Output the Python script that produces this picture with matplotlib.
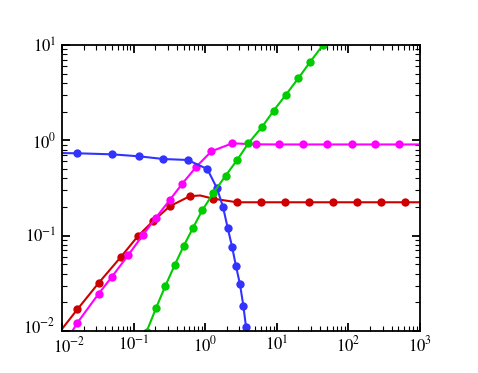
import numpy as np
import matplotlib
matplotlib.use("Agg")
import matplotlib.pyplot as plt
from matplotlib.ticker import LogLocator, NullFormatter, FixedLocator
from matplotlib.transforms import ScaledTranslation

plt.rcParams['font.family'] = 'Liberation Serif'
plt.rcParams['mathtext.fontset'] = 'stix'

# values (log-log); first/last entries of each
# line array are where the curve meets the frame, markers on the rest
blue_x = [0.01, 0.0164, 0.05, 0.118, 0.26, 0.569, 1.07, 1.46, 1.77, 2.06, 2.37, 2.69, 3.06, 3.41, 3.71, 3.85]
blue_y = [0.735, 0.731, 0.713, 0.68, 0.637, 0.622, 0.50, 0.314, 0.201, 0.121, 0.0767, 0.048, 0.0309, 0.0184, 0.0111, 0.0095]

red_x = [0.01, 0.0164, 0.0325, 0.0667, 0.116, 0.186, 0.319, 0.607, 0.85, 1.30, 2.78, 6.0, 13.0, 28.0, 60.0, 130.0, 282.0, 611.0, 1000.0]
red_y = [0.0105, 0.01687, 0.0319, 0.060, 0.0998, 0.1414, 0.203, 0.259, 0.264, 0.244, 0.224, 0.224, 0.224, 0.224, 0.224, 0.224, 0.224, 0.224, 0.224]

mag_x = [0.0134, 0.0164, 0.0325, 0.0499, 0.0837, 0.134, 0.203, 0.322, 0.479, 0.752, 1.22, 2.39, 5.07, 10.8, 23.4, 50.7, 111.0, 238.0, 514.0, 1000.0]
mag_y = [0.0095, 0.0122, 0.0246, 0.0371, 0.0622, 0.101, 0.153, 0.238, 0.351, 0.529, 0.767, 0.93, 0.908, 0.905, 0.905, 0.905, 0.905, 0.905, 0.905, 0.905]

green_x = [0.152, 0.205, 0.277, 0.375, 0.501, 0.676, 0.912, 1.30, 1.93, 2.81, 4.0, 6.21, 9.05, 13.4, 19.95, 29.4, 44.2]
green_y = [0.00984, 0.0173, 0.0296, 0.0492, 0.078, 0.121, 0.185, 0.28, 0.426, 0.626, 0.93, 1.38, 2.05, 3.01, 4.47, 6.69, 10.0]

blue_marks = list(range(1, 15))
red_marks = list(range(1, 8)) + list(range(9, 18))
mag_marks = list(range(1, 19))
green_marks = list(range(0, 17))

fig = plt.figure(figsize=(4.78, 3.73), dpi=100)
ax = fig.add_axes([0.1297, 0.1126, 0.749, 0.7668])

series = [
    (red_x, red_y, red_marks, '#cc0000'),
    (mag_x, mag_y, mag_marks, '#ff00ff'),
    (blue_x, blue_y, blue_marks, '#3333ff'),
    (green_x, green_y, green_marks, '#00cc00'),
]
for xs, ys, marks, c in series:
    ax.plot(xs, ys, color=c, lw=1.5, marker='o', ms=6, markevery=marks,
            markeredgewidth=0)

ax.set_xscale('log')
ax.set_yscale('log')
ax.set_xlim(1e-2, 1e3)
ax.set_ylim(1e-2, 1e1)

xt = [1e-2, 1e-1, 1e0, 1e1, 1e2, 1e3]
yt = [1e-2, 1e-1, 1e0, 1e1]
ax.xaxis.set_major_locator(FixedLocator(xt))
ax.yaxis.set_major_locator(FixedLocator(yt))
ax.set_xticklabels([r'$10^{-2}$', r'$10^{-1}$', r'$10^{0}$', r'$10^{1}$', r'$10^{2}$', r'$10^{3}$'])
ax.set_yticklabels([r'$10^{-2}$', r'$10^{-1}$', r'$10^{0}$', r'$10^{1}$'])
ax.xaxis.set_minor_locator(LogLocator(base=10, subs=np.arange(2, 10), numticks=20))
ax.yaxis.set_minor_locator(LogLocator(base=10, subs=np.arange(2, 10), numticks=20))
ax.xaxis.set_minor_formatter(NullFormatter())
ax.yaxis.set_minor_formatter(NullFormatter())

ax.tick_params(which='both', direction='in', top=True, right=True, labelsize=12)
ax.tick_params(axis='x', which='major', pad=3)
ax.tick_params(axis='y', which='major', pad=4)
ax.tick_params(which='major', length=6, width=1.3)
ax.tick_params(which='minor', length=3.5, width=0.8)
for s in ax.spines.values():
    s.set_linewidth(1.3)

# nudge the two corner labels apart a little
lx = ax.xaxis.get_majorticklabels()[0]
lx.set_transform(lx.get_transform() + ScaledTranslation(5 / 72, -1 / 72, fig.dpi_scale_trans))
ly = ax.yaxis.get_majorticklabels()[0]
ly.set_transform(ly.get_transform() + ScaledTranslation(-1 / 72, 4 / 72, fig.dpi_scale_trans))

fig.savefig('out.png', dpi=100)
